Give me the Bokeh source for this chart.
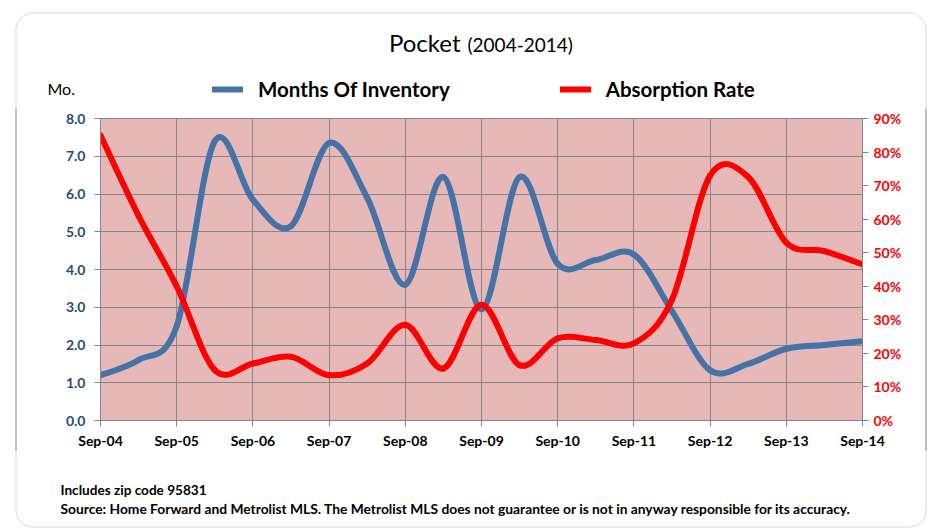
from bokeh.plotting import figure
from bokeh.layouts import column, row
from bokeh.models import (Range1d, LinearAxis, FixedTicker, NumeralTickFormatter,
                          PrintfTickFormatter, Label, Legend, LegendItem, BoxAnnotation)
from bokeh.embed import file_html
from bokeh.resources import INLINE

# ---------------- data ----------------
periods = ["2004-09", "2005-03", "2005-09", "2006-03", "2006-09", "2007-03", "2007-09",
           "2008-03", "2008-09", "2009-03", "2009-09", "2010-03", "2010-09", "2011-03",
           "2011-09", "2012-03", "2012-09", "2013-03", "2013-09", "2014-03", "2014-09"]
months_of_inventory = [1.2, 1.6, 2.5, 7.4, 5.85, 5.15, 7.35, 5.9, 3.6, 6.45, 2.95,
                       6.45, 4.15, 4.25, 4.4, 2.9, 1.33, 1.5, 1.9, 2.0, 2.1]
absorption_rate = [85, 61, 40, 15, 17, 19, 13.5, 17, 28.5, 15.5, 34.5,
                   16.5, 24.5, 24, 23, 36, 73, 72.6, 53, 50.5, 46.5]
x_tick_labels = ["Sep-04", "Sep-05", "Sep-06", "Sep-07", "Sep-08", "Sep-09",
                 "Sep-10", "Sep-11", "Sep-12", "Sep-13", "Sep-14"]
left_ticks = [0, 1, 2, 3, 4, 5, 6, 7, 8]
right_ticks = [0, 10, 20, 30, 40, 50, 60, 70, 80, 90]
series_names = ["Months Of Inventory", "Absorption Rate"]


def month_index(s):
    y, m = s.split("-")
    return (int(y) - 2004) * 12 + int(m) - 9


xs = [month_index(s) for s in periods]
tick_pos = [month_index("20" + lab[-2:] + "-09") for lab in x_tick_labels]


def bezier_segments(x, y):
    """Excel-style smoothed line: cubic Bezier through each data point."""
    n = len(x)
    out = dict(x0=[], y0=[], x1=[], y1=[], cx0=[], cy0=[], cx1=[], cy1=[])
    for i in range(n - 1):
        a = max(i - 1, 0)
        d = min(i + 2, n - 1)
        out["x0"].append(x[i]); out["y0"].append(y[i])
        out["x1"].append(x[i + 1]); out["y1"].append(y[i + 1])
        out["cx0"].append(x[i] + (x[i + 1] - x[a]) / 6)
        out["cy0"].append(y[i] + (y[i + 1] - y[a]) / 6)
        out["cx1"].append(x[i + 1] - (x[d] - x[i]) / 6)
        out["cy1"].append(y[i + 1] - (y[d] - y[i]) / 6)
    return out


FONT = "Lato"
GRID = "#868686"
BORDER = "#808080"
BLUE = "#4572A7"
RED = "#FF0000"
LW = 6


def blank(w, h):
    f = figure(width=w, height=h, output_backend="svg", toolbar_location=None,
               x_axis_type=None, y_axis_type=None, min_border=0,
               x_range=Range1d(0, w), y_range=Range1d(h, 0))
    f.outline_line_color = None
    f.background_fill_color = "white"
    f.border_fill_color = "white"
    return f


def frame_box(f, left, right, top, bottom):
    f.add_layout(BoxAnnotation(left=left, right=right, top=top, bottom=bottom,
                               fill_alpha=0, line_color=BORDER, line_width=1,
                               border_radius=17))


def lab(f, text, x, y, size, align="left", style="normal"):
    f.add_layout(Label(text=text, x=x, y=y, text_font=FONT, text_font_size=size,
                       text_font_style=style, text_align=align,
                       text_baseline="middle", text_color="black"))


def side_strip(w, h, gap_left):
    """Strip whose 1px-wide frame forms the outer border line."""
    f = figure(width=w, height=h, output_backend="svg", toolbar_location=None,
               x_axis_type=None, y_axis_type=None, min_border_top=0,
               min_border_bottom=0, min_border_left=gap_left,
               min_border_right=w - gap_left - 1)
    f.outline_line_color = None
    f.background_fill_color = BORDER
    f.border_fill_color = "white"
    try:
        f.frame_align = False
    except Exception:
        pass
    return f


# ---------------- top strip: title, unit, legend ----------------
top = blank(935, 108)
frame_box(top, 15.5, 925.5, 12.5, 1000)
lab(top, "Pocket", 460, 42, "24px", align="right")
lab(top, "(2004-2014)", 467, 44, "19px")
lab(top, "Mo.", 47, 88, "16px")
nan = float("nan")
leg_blue = top.line(x=[nan], y=[nan], line_color=BLUE, line_width=LW, line_cap="round")
leg_red = top.line(x=[nan], y=[nan], line_color=RED, line_width=LW, line_cap="round")
legend = Legend(items=[LegendItem(label=series_names[0], renderers=[leg_blue]),
                       LegendItem(label=series_names[1], renderers=[leg_red])],
                orientation="horizontal", location=(212, 7),
                glyph_width=31, glyph_height=20, label_height=20,
                label_standoff=15, spacing=110, padding=0, margin=0,
                border_line_color=None, background_fill_alpha=0,
                label_text_font=FONT, label_text_font_size="20.5px",
                label_text_font_style="bold", label_text_color="black")
top.add_layout(legend, "center")

# ---------------- main chart ----------------
p = figure(width=875, height=343, output_backend="svg", toolbar_location=None,
           x_range=Range1d(tick_pos[0], tick_pos[-1]), y_range=Range1d(0, 8),
           min_border_left=60, min_border_right=53, min_border_top=10,
           min_border_bottom=30)
p.extra_y_ranges = {"pct": Range1d(0, 90)}
p.background_fill_color = "#E6B9B8"
p.border_fill_color = "white"
p.outline_line_color = GRID
p.outline_line_width = 1

p.xaxis.ticker = FixedTicker(ticks=tick_pos)
p.xaxis.major_label_overrides = {t: l for t, l in zip(tick_pos, x_tick_labels)}
p.yaxis.ticker = FixedTicker(ticks=left_ticks)
p.yaxis.formatter = NumeralTickFormatter(format="0.0")
p.xgrid.ticker = FixedTicker(ticks=tick_pos)
p.ygrid.ticker = FixedTicker(ticks=left_ticks)
for g in (p.xgrid, p.ygrid):
    g.grid_line_color = GRID
    g.grid_line_width = 1

right_axis = LinearAxis(y_range_name="pct", ticker=FixedTicker(ticks=right_ticks),
                        formatter=PrintfTickFormatter(format="%d%%"))
p.add_layout(right_axis, "right")

for ax, col in ((p.xaxis[0], "black"), (p.yaxis[0], "#1F4E79"), (right_axis, RED)):
    ax.axis_line_color = GRID
    ax.major_tick_line_color = GRID
    ax.major_tick_out = 6
    ax.major_tick_in = 0
    ax.minor_tick_line_color = None
    ax.major_label_text_font = FONT
    ax.major_label_text_font_style = "bold"
    ax.major_label_text_font_size = "14px"
    ax.major_label_text_color = col
p.yaxis[0].major_label_standoff = 9
p.xaxis[0].major_label_standoff = 5
right_axis.major_label_standoff = 5

p.bezier(**bezier_segments(xs, months_of_inventory),
         line_color=BLUE, line_width=LW, line_cap="round")
p.bezier(**bezier_segments(xs, absorption_rate), y_range_name="pct",
         line_color=RED, line_width=LW, line_cap="round")

# side strips carrying the outer frame line
left_strip = side_strip(40, 343, 15)
right_strip = side_strip(20, 343, 10)

# ---------------- bottom strip: notes ----------------
bottom = blank(935, 77)
frame_box(bottom, 15.5, 925.5, -1000, 75.5)
lab(bottom, "Includes zip code 95831", 60, 38, "13.6px", style="bold")
lab(bottom, "Source: Home Forward and  Metrolist MLS. The Metrolist MLS does not guarantee "
    "or is not in anyway responsible for its accuracy.", 60, 57, "13.8px", style="bold")

layout = column(top, row(left_strip, p, right_strip, spacing=0), bottom, spacing=0)

open("out.html", "w").write(file_html(layout, INLINE))
